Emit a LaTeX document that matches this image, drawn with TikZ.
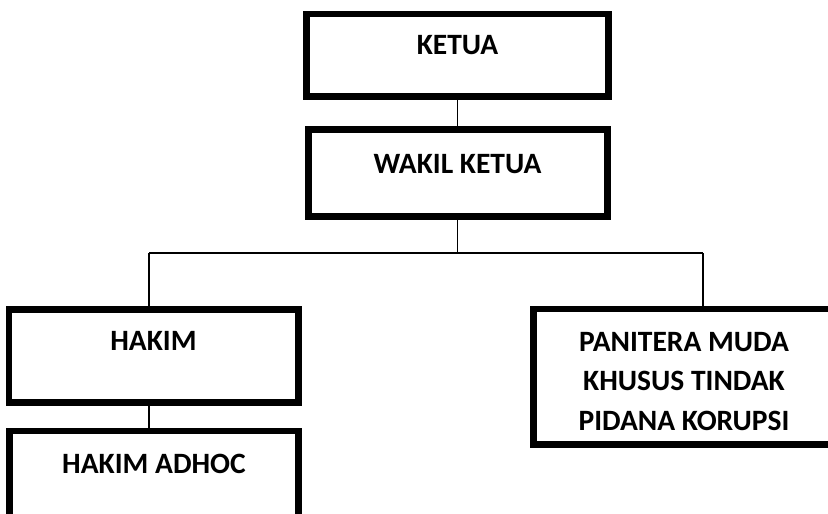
\documentclass[tikz,border=0pt]{standalone}
\usepackage{fontspec}
\setmainfont{Carlito}
\begin{document}
\begin{tikzpicture}[x=1pt,y=-1pt,
  box/.style={draw=black,line width=4.5pt,rectangle,inner sep=0pt,fill=white},
  lbl/.style={anchor=base,inner sep=0pt,font=\fontsize{29.5}{39.5}\selectfont\bfseries},
  conn/.style={draw=black,line width=1.8pt}]
\useasboundingbox (0,0) rectangle (828,514);
\clip (0,0) rectangle (828,514);
\fill[white] (0,0) rectangle (828,514);
% boxes
\node[box,minimum width=300pt,minimum height=80.5pt] (ketua) at (457.5,55.25) {};
\node[box,minimum width=297pt,minimum height=85pt] (wakil) at (458,173) {};
\node[box,minimum width=287.5pt,minimum height=91pt] (hakim) at (153.75,356) {};
\node[box,minimum width=287pt,minimum height=100pt] (adhoc) at (154,482) {};
\node[box,minimum width=325.5pt,minimum height=133.5pt] (panitera) at (697.25,376.75) {};
% connectors
\coordinate (busL) at (149.3,253);
\coordinate (busR) at (703,253);
\coordinate (busM) at (457.5,253);
\draw[conn] (ketua.south) -- (ketua.south |- wakil.north);
\draw[conn] (wakil.south -| busM) -- (busM);
\draw[conn] (busL) -- (busR);
\draw[conn] (busL) -- (busL |- hakim.north);
\draw[conn] (busR) -- (busR |- panitera.north);
\draw[conn] (hakim.south -| busL) -- (busL |- adhoc.north);
% redraw box borders on top of connectors
\draw[line width=4.5pt] (ketua.north west) rectangle (ketua.south east);
\draw[line width=4.5pt] (wakil.north west) rectangle (wakil.south east);
\draw[line width=4.5pt] (hakim.north west) rectangle (hakim.south east);
\draw[line width=4.5pt] (adhoc.north west) rectangle (adhoc.south east);
\draw[line width=4.5pt] (panitera.north west) rectangle (panitera.south east);
% labels
\node[lbl] (tketua) at (457.5,54) {KETUA};
\node[lbl] (twakil) at (457.5,173) {WAKIL KETUA};
\node[lbl] (thakim) at (153.5,350) {HAKIM};
\node[lbl] (tadhoc) at (154,473) {HAKIM ADHOC};
\node[lbl] (tp1) at (684,351) {PANITERA MUDA};
\node[lbl] (tp2) at (684,390.5) {KHUSUS TINDAK};
\node[lbl] (tp3) at (684,430) {PIDANA KORUPSI};
\end{tikzpicture}
\end{document}
